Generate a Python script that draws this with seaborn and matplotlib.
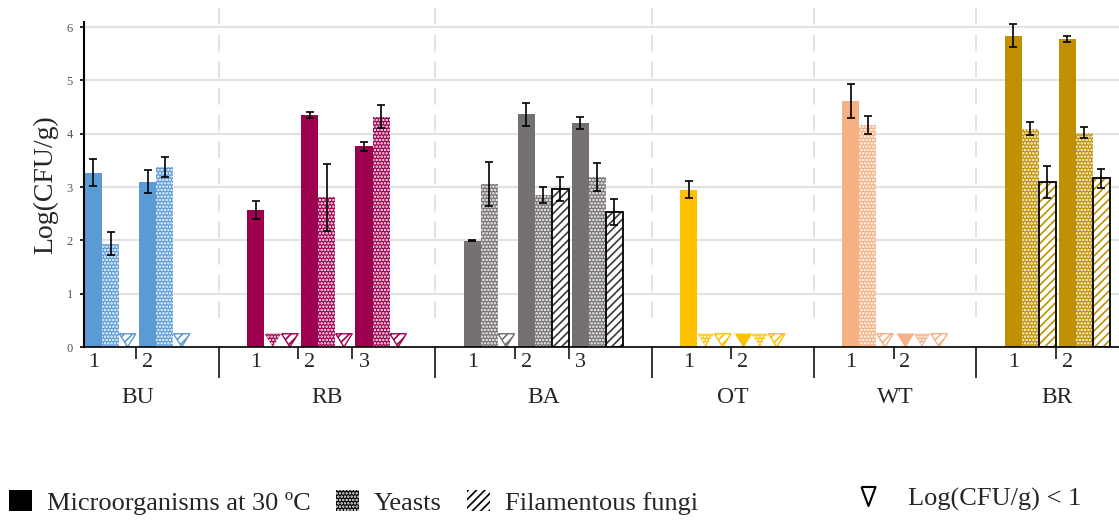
import numpy as np
import pandas as pd
import matplotlib
matplotlib.use("Agg")
import matplotlib.pyplot as plt
import matplotlib.colors as mcolors
from matplotlib.patches import Patch, Rectangle
from matplotlib.lines import Line2D
import seaborn as sns

# ---------------- data ----------------
groups = ["BU", "RB", "BA", "OT", "WT", "BR"]
samples_per_group = [2, 3, 3, 2, 2, 2]
group_colors = ["#5B9BD5", "#9E0050", "#767171", "#FFC000", "#F4B183", "#BF9000"]
series_labels = ["Microorganisms at 30 ºC", "Yeasts", "Filamentous fungi"]
below_label = "Log(CFU/g) < 1"
y_label = "Log(CFU/g)"
y_ticks = [0, 1, 2, 3, 4, 5, 6]

nan = np.nan
# samples in order: BU1 BU2 | RB1 RB2 RB3 | BA1 BA2 BA3 | OT1 OT2 | WT1 WT2 | BR1 BR2
# nan = below detection limit (Log(CFU/g) < 1), drawn as a triangle
micro = [3.27, 3.10, 2.57, 4.35, 3.76, 1.99, 4.36, 4.20, 2.95, nan, 4.62, nan, 5.84, 5.78]
micro_sd = [0.25, 0.22, 0.17, 0.05, 0.09, 0.01, 0.21, 0.12, 0.16, nan, 0.32, nan, 0.21, 0.06]
yeasts = [1.94, 3.37, nan, 2.81, 4.32, 3.06, 2.85, 3.19, nan, nan, 4.16, nan, 4.09, 4.02]
yeasts_sd = [0.22, 0.19, nan, 0.63, 0.21, 0.41, 0.15, 0.26, nan, nan, 0.17, nan, 0.12, 0.10]
fungi = [nan, nan, nan, nan, nan, nan, 2.96, 2.53, nan, nan, nan, nan, 3.10, 3.16]
fungi_sd = [nan, nan, nan, nan, nan, nan, 0.23, 0.25, nan, nan, nan, nan, 0.30, 0.18]

# ---------------- layout helpers ----------------
SLOT = 0.315
sample_pos, sample_num, sample_group = [], [], []
group_spans = []
k = 0
for g, n in zip(groups, samples_per_group):
    start = k
    for i in range(n):
        sample_pos.append(k)
        sample_num.append(i + 1)
        sample_group.append(g)
        k += 1
    group_spans.append((start - SLOT / 2, k - 1 + 2 * SLOT + SLOT / 2))
    k += 1

palette = dict(zip(groups, group_colors))
hatch_colors = dict(zip(groups, group_colors))
hatch_colors["BA"] = "#3a3a3a"

YEAST_HATCH = "....."
FUNGI_HATCH = "////"

rows, tris = [], []
for s_idx, (vals, sds) in enumerate([(micro, micro_sd), (yeasts, yeasts_sd), (fungi, fungi_sd)]):
    for i, (v, sd) in enumerate(zip(vals, sds)):
        x = sample_pos[i] + s_idx * SLOT
        if np.isnan(v):
            tris.append((x, sample_group[i], s_idx))
        else:
            rows.append(dict(pos=x, value=v, sd=sd, group=sample_group[i], series=s_idx))
df = pd.DataFrame(rows)

# ---------------- style ----------------
sns.set_theme(style="white")
plt.rcParams["font.family"] = ["Liberation Serif", "DejaVu Serif"]
plt.rcParams["hatch.linewidth"] = 1.2

fig = plt.figure(figsize=(11.19, 5.2), dpi=100)
ax = fig.add_axes([84 / 1119, 173 / 520, 1035 / 1119, 325.3 / 520])

sns.barplot(data=df, x="pos", y="value", hue="group", hue_order=groups, palette=palette,
            native_scale=True, dodge=False, width=1.0, errorbar=None, saturation=1,
            legend=False, linewidth=0, ax=ax)

for p in list(ax.patches):
    cx = p.get_x() + p.get_width() / 2
    idx = (df["pos"] - cx).abs().idxmin()
    s = df.loc[idx, "series"]
    g = df.loc[idx, "group"]
    col = palette[g]
    p.set_zorder(2)
    if s == 0:
        p.set_facecolor(col)
        p.set_edgecolor(col)
        p.set_linewidth(0)
    elif s == 1:
        p.set_facecolor(col)
        p.set_edgecolor("white")
        p.set_hatch(YEAST_HATCH)
        p.set_linewidth(0)
    else:
        p.set_facecolor("white")
        p.set_edgecolor(hatch_colors[g])
        p.set_hatch(FUNGI_HATCH)
        p.set_linewidth(0)
        ax.add_patch(Rectangle((p.get_x(), 0), p.get_width(), p.get_height(),
                               fill=False, edgecolor="black", linewidth=1.3, zorder=3))

ax.errorbar(df["pos"], df["value"], yerr=df["sd"], fmt="none", ecolor="black",
            elinewidth=1.2, capsize=2.8, capthick=1.2, zorder=5)

# triangles for values below the detection limit
tri_marker = [(-1, 0.8), (1, 0.8), (0, -0.8), (-1, 0.8)]
for x, g, s in tris:
    col = palette[g]
    if s == 0:
        ax.scatter([x], [0.125], marker=tri_marker, s=140, facecolor=col,
                   edgecolor=col, linewidth=0.5, zorder=4)
    elif s == 1:
        ax.scatter([x], [0.125], marker=tri_marker, s=140, facecolor=col,
                   edgecolor="white", hatch=YEAST_HATCH, linewidth=0, zorder=4)
    else:
        ax.scatter([x], [0.125], marker=tri_marker, s=140, facecolor="white",
                   edgecolor=col, hatch=FUNGI_HATCH, linewidth=1.0, zorder=4)

# ---------------- axes ----------------
ax.set_xlim(-0.175, 18.955)
ax.set_ylim(0, 6.1)
ax.set_yticks(y_ticks)
ax.set_yticklabels([str(t) for t in y_ticks], fontsize=9, color="#555555")
ax.tick_params(axis="y", left=True, length=3, width=1.2, color="black", pad=5)

seps = [(group_spans[i][1] + group_spans[i + 1][0]) / 2 for i in range(len(groups) - 1)]
minor = [sample_pos[i] + 2 * SLOT + SLOT / 2 for i in range(len(sample_pos) - 1)
         if sample_group[i] == sample_group[i + 1]]
ax.set_xticks(seps)
ax.set_xticks(minor, minor=True)
ax.tick_params(axis="x", which="major", bottom=True, length=22, width=1.1, color="black",
               labelbottom=False, direction="out")
ax.tick_params(axis="x", which="minor", bottom=True, length=8.6, width=1.1, color="black",
               labelbottom=False, direction="out")

for sp in ["top", "right"]:
    ax.spines[sp].set_visible(False)
ax.spines["left"].set_color("black")
ax.spines["left"].set_linewidth(1.5)
ax.spines["bottom"].set_color("black")
ax.spines["bottom"].set_linewidth(1.2)
ax.spines["left"].set_zorder(6)
ax.spines["bottom"].set_zorder(6)

ax.set_axisbelow(True)
ax.yaxis.grid(True, color="#e2e2e2", linewidth=1.5)
ax.xaxis.grid(False)
ax.vlines(seps, 0.55, 6.4, colors="#dedede", linestyles=(0, (10, 6)), linewidth=1.2,
          clip_on=False, zorder=0.5)

for x, n in zip(sample_pos, sample_num):
    ax.text(x, -0.3, str(n), ha="center", va="center", fontsize=16, clip_on=False)
for g, (a, b) in zip(groups, group_spans):
    ax.text((a + b) / 2, -0.95, g, ha="center", va="center", fontsize=17, clip_on=False)

ax.set_xlabel("")
ax.set_ylabel(y_label, fontsize=20)
ax.yaxis.set_label_coords(-0.025, 0.5)

# ---------------- legends ----------------
h1 = [Patch(facecolor="black", edgecolor="black", linewidth=0),
      Patch(facecolor="black", edgecolor="white", hatch=YEAST_HATCH, linewidth=0),
      Patch(facecolor="white", edgecolor="black", hatch=FUNGI_HATCH, linewidth=0)]
leg1 = fig.legend(h1, series_labels, loc="center left", bbox_to_anchor=(9 / 1119, 17.5 / 520),
                  ncol=3, frameon=False, fontsize=19, handlelength=0.87, handleheight=0.87,
                  handletextpad=0.57, columnspacing=0.95, borderpad=0, borderaxespad=0)

leg_tri = [(-0.74, 1), (0.74, 1), (0, -1), (-0.74, 1)]
h2 = [Line2D([], [], linestyle="none", marker=leg_tri, markersize=13.7,
             markerfacecolor="none", markeredgecolor="black", markeredgewidth=1.5)]
leg2 = fig.legend(h2, [below_label], loc="center left", bbox_to_anchor=(857.5 / 1119, 21 / 520),
                  frameon=False, fontsize=19, handlelength=0.8, handletextpad=1.1,
                  borderpad=0, borderaxespad=0)

fig.savefig("out.png", dpi=100)
